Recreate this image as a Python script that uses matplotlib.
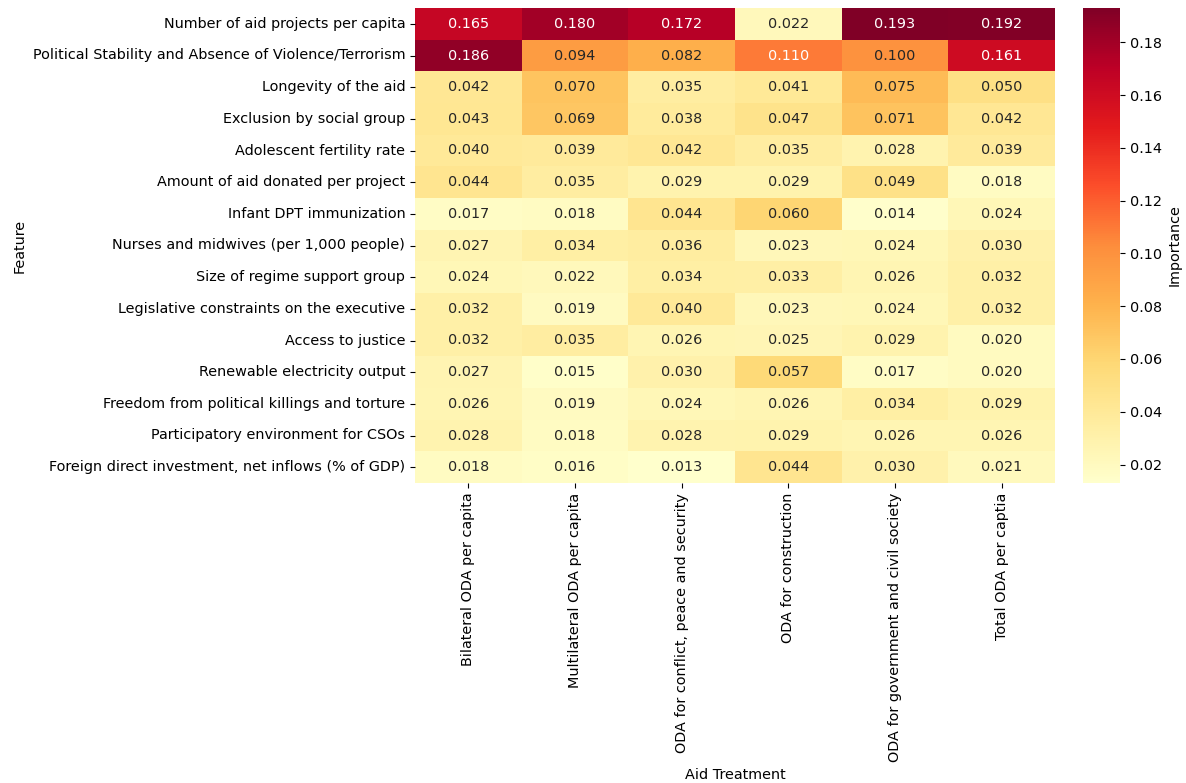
import numpy as np
import pandas as pd
import matplotlib
matplotlib.use("Agg")
import matplotlib.pyplot as plt
import seaborn as sns

features = [
    "Number of aid projects per capita",
    "Political Stability and Absence of Violence/Terrorism",
    "Longevity of the aid",
    "Exclusion by social group",
    "Adolescent fertility rate",
    "Amount of aid donated per project",
    "Infant DPT immunization",
    "Nurses and midwives (per 1,000 people)",
    "Size of regime support group",
    "Legislative constraints on the executive",
    "Access to justice",
    "Renewable electricity output",
    "Freedom from political killings and torture",
    "Participatory environment for CSOs",
    "Foreign direct investment, net inflows (% of GDP)",
]

treatments = [
    "Bilateral ODA per capita",
    "Multilateral ODA per capita",
    "ODA for conflict, peace and security",
    "ODA for construction",
    "ODA for government and civil society",
    "Total ODA per captia",
]

bilateral = [0.165, 0.186, 0.042, 0.043, 0.040, 0.044, 0.017, 0.027, 0.024, 0.032, 0.032, 0.027, 0.026, 0.028, 0.018]
multilateral = [0.180, 0.094, 0.070, 0.069, 0.039, 0.035, 0.018, 0.034, 0.022, 0.019, 0.035, 0.015, 0.019, 0.018, 0.016]
conflict = [0.172, 0.082, 0.035, 0.038, 0.042, 0.029, 0.044, 0.036, 0.034, 0.040, 0.026, 0.030, 0.024, 0.028, 0.013]
construction = [0.022, 0.110, 0.041, 0.047, 0.035, 0.029, 0.060, 0.023, 0.033, 0.023, 0.025, 0.057, 0.026, 0.029, 0.044]
government = [0.193, 0.100, 0.075, 0.071, 0.028, 0.049, 0.014, 0.024, 0.026, 0.024, 0.029, 0.017, 0.034, 0.026, 0.030]
total = [0.192, 0.161, 0.050, 0.042, 0.039, 0.018, 0.024, 0.030, 0.032, 0.032, 0.020, 0.020, 0.029, 0.026, 0.021]

df = pd.DataFrame(
    np.column_stack([bilateral, multilateral, conflict, construction, government, total]),
    index=features, columns=treatments,
)
df.index.name = "Feature"
df.columns.name = "Aid Treatment"

plt.rcParams["font.size"] = 10.4

fig = plt.figure(figsize=(11.86, 7.83), dpi=100)
ax = fig.add_axes([415 / 1186, 1 - 483 / 783, 640 / 1186, 475 / 783])
cax = fig.add_axes([1083 / 1186, 1 - 483 / 783, 37 / 1186, 475 / 783])

sns.heatmap(df, annot=True, fmt=".3f", cmap="YlOrRd", ax=ax, cbar_ax=cax,
            cbar_kws={"label": "Importance"})

plt.savefig("out.png", dpi=100)
